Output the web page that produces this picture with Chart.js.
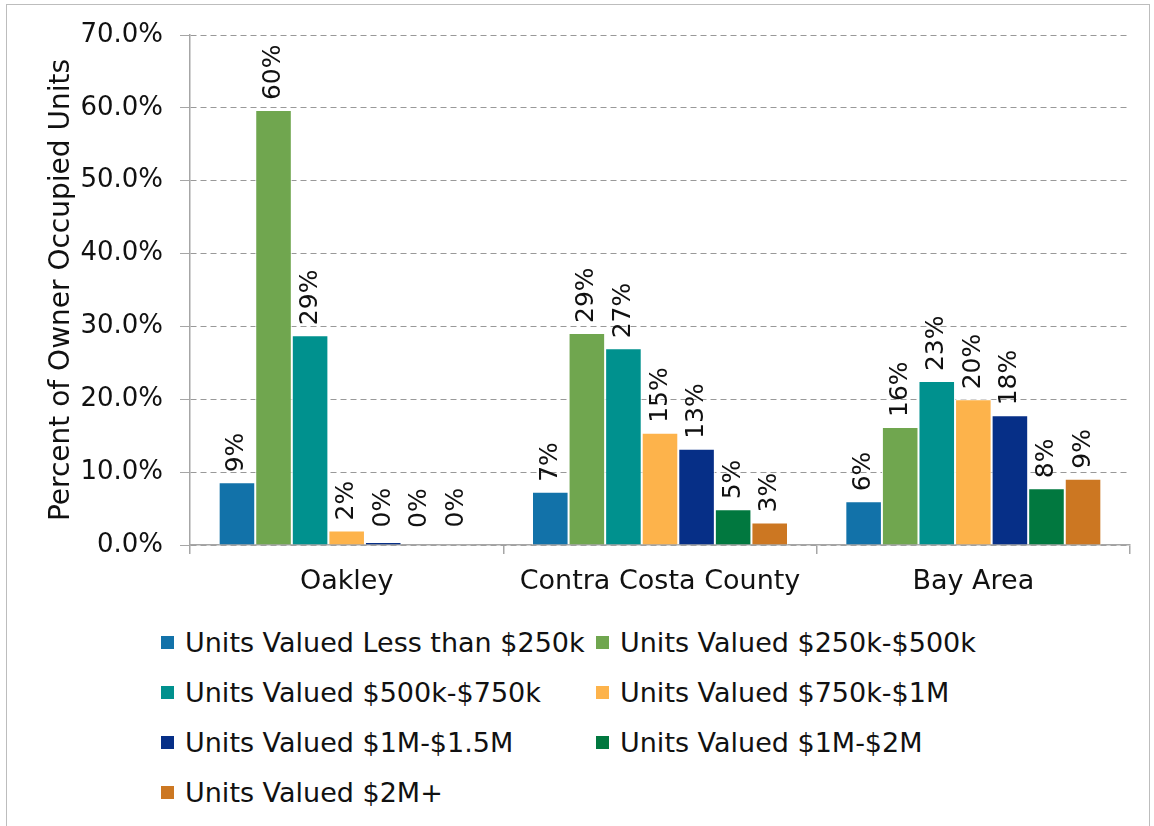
<!DOCTYPE html>
<html lang="en">
<head>
    <meta charset="UTF-8">
    <title>Owner Occupied Units by Value</title>
    <script src="https://cdn.jsdelivr.net/npm/chart.js"></script>
    <style>
        * { margin: 0; padding: 0; box-sizing: border-box; }
        body { width: 1154px; height: 826px; background: #fff; overflow: hidden; position: relative; font-family: 'DejaVu Sans', sans-serif; }
        .frame { position: absolute; left: 6px; top: 4px; width: 1144px; height: 840px; border: 1px solid #bdbdbd; }
        .chart-box { position: absolute; left: 0; top: 0; width: 1154px; height: 610px; }
        .legend { position: absolute; left: 161px; top: 617px; display: grid; grid-template-columns: 435px 420px; }
        .legend-item { height: 50px; display: flex; align-items: center; font-size: 27px; color: #111; white-space: nowrap; }
        .legend-item span.box { width: 13px; height: 13px; margin-right: 11px; display: inline-block; }
    </style>
</head>
<body>
    <div class="frame"></div>
    <div class="chart-box"><canvas id="valueChart"></canvas></div>
    <div class="legend" id="legend"></div>

    <script>
        // Categories and series (percent of owner occupied units)
        const categories = ['Oakley', 'Contra Costa County', 'Bay Area'];
        const seriesNames = [
            'Units Valued Less than $250k',
            'Units Valued $250k-$500k',
            'Units Valued $500k-$750k',
            'Units Valued $750k-$1M',
            'Units Valued $1M-$1.5M',
            'Units Valued $1M-$2M',
            'Units Valued $2M+'
        ];
        const lessThan250k = [8.6, 7.3, 6.0];
        const from250kTo500k = [59.7, 29.1, 16.2];
        const from500kTo750k = [28.8, 27.0, 22.5];
        const from750kTo1M = [2.0, 15.4, 20.0];
        const from1MTo1_5M = [0.4, 13.2, 17.8];
        const from1MTo2M = [0.0, 4.9, 7.8];
        const over2M = [0.1, 3.1, 9.1];
        const seriesValues = [lessThan250k, from250kTo500k, from500kTo750k, from750kTo1M, from1MTo1_5M, from1MTo2M, over2M];
        const seriesColors = ['#1272A9', '#70A64F', '#00918E', '#FDB34B', '#062F87', '#01783F', '#CC7722'];
        const yTicks = [0, 10, 20, 30, 40, 50, 60, 70];

        const fontFamily = "'DejaVu Sans', sans-serif";

        // Rotated value labels above each bar
        const barLabels = {
            id: 'barLabels',
            afterDatasetsDraw(chart) {
                const ctx = chart.ctx;
                ctx.save();
                ctx.font = '25px ' + fontFamily;
                ctx.fillStyle = '#111';
                chart.data.datasets.forEach((ds, i) => {
                    const meta = chart.getDatasetMeta(i);
                    meta.data.forEach((bar, j) => {
                        const v = ds.data[j];
                        const yStart = Math.min(bar.y - 10, bar.base - 17);
                        ctx.save();
                        ctx.translate(bar.x, yStart);
                        ctx.rotate(-Math.PI / 2);
                        ctx.textAlign = 'left';
                        ctx.textBaseline = 'middle';
                        ctx.fillText(Math.round(v) + '%', 0, 0);
                        ctx.restore();
                    });
                });
                ctx.restore();
            }
        };

        const datasets = seriesNames.map((name, i) => ({
            label: name,
            data: seriesValues[i],
            backgroundColor: seriesColors[i],
            borderColor: '#ffffff',
            borderWidth: 1,
            barPercentage: 1.0,
            categoryPercentage: 0.817
        }));

        const ctx = document.getElementById('valueChart').getContext('2d');
        new Chart(ctx, {
            type: 'bar',
            data: { labels: categories, datasets: datasets },
            plugins: [barLabels],
            options: {
                responsive: true,
                maintainAspectRatio: false,
                animation: false,
                layout: { padding: { left: 40, right: 24, top: 35, bottom: 0 } },
                plugins: {
                    legend: { display: false },
                    tooltip: { enabled: false }
                },
                scales: {
                    x: {
                        grid: { display: true, drawOnChartArea: false, drawTicks: true, tickLength: 9, color: '#a6a6a6', lineWidth: 1.5 },
                        border: { color: '#a6a6a6', width: 1.5 },
                        ticks: { color: '#111', font: { family: fontFamily, size: 27 }, padding: 12 },
                        afterFit(scale) { scale.height = 65; }
                    },
                    y: {
                        min: 0,
                        max: 70,
                        afterBuildTicks(scale) { scale.ticks = yTicks.map(v => ({ value: v })); },
                        grid: { color: '#999999', lineWidth: 1, tickLength: 10, tickColor: '#a6a6a6', tickBorderDash: [] },
                        border: { color: '#a6a6a6', width: 1.5, dash: [6, 4] },
                        ticks: { color: '#111', font: { family: fontFamily, size: 26 }, padding: 17, callback: v => v.toFixed(1) + '%' },
                        title: { display: true, text: 'Percent of Owner Occupied Units', color: '#111', font: { family: fontFamily, size: 28 }, padding: { top: 5, bottom: 0 } },
                        afterFit(scale) { scale.width = 150; }
                    }
                }
            }
        });

        // HTML legend in two columns built from the series arrays
        const legend = document.getElementById('legend');
        seriesNames.forEach((name, i) => {
            const item = document.createElement('div');
            item.className = 'legend-item';
            item.innerHTML = '<span class="box" style="background:' + seriesColors[i] + '"></span>' + name;
            legend.appendChild(item);
        });
    </script>
</body>
</html>
